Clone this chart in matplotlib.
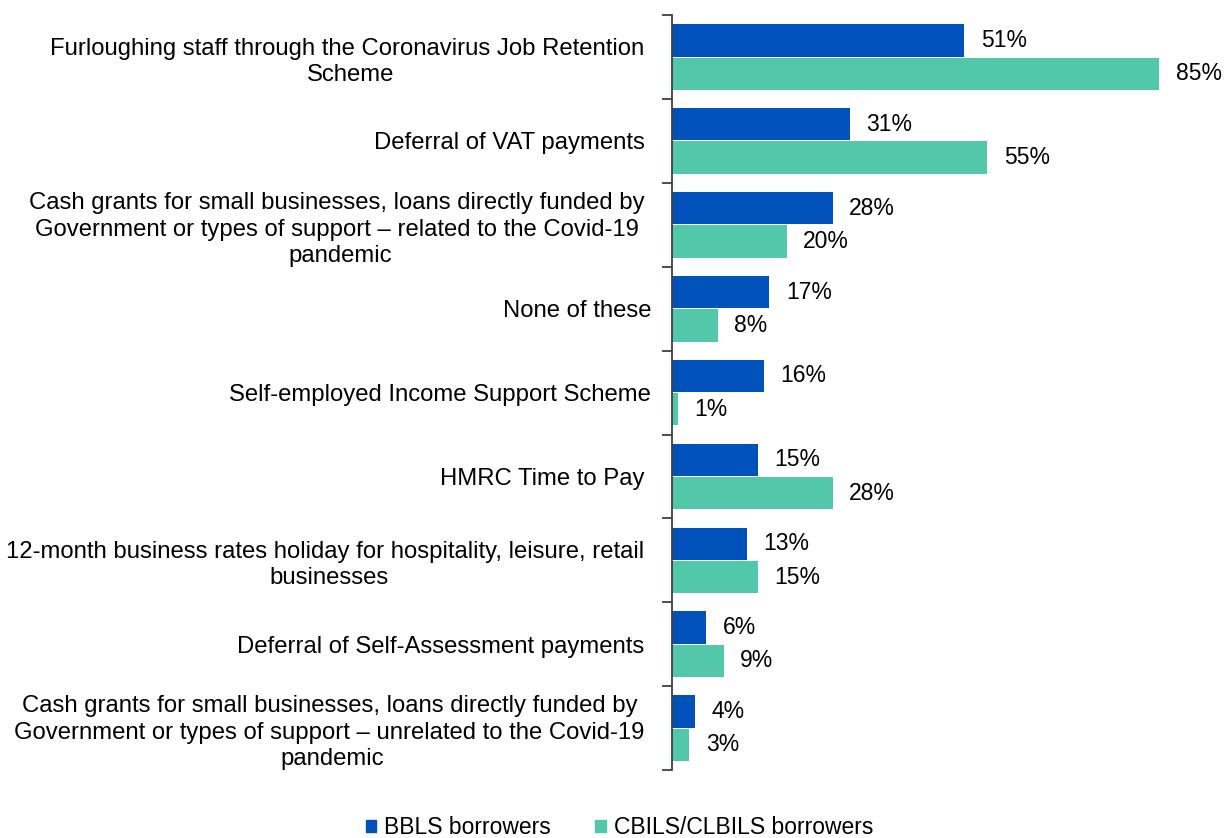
import matplotlib
matplotlib.use("Agg")
import matplotlib.pyplot as plt
import numpy as np

plt.rcParams['font.family'] = ['Liberation Sans', 'DejaVu Sans']

categories = [
    "Furloughing staff through the Coronavirus Job Retention \nScheme",
    "Deferral of VAT payments ",
    "Cash grants for small businesses, loans directly funded by \nGovernment or types of support \u2013 related to the Covid-19 \npandemic",
    "None of these",
    "Self-employed Income Support Scheme",
    "HMRC Time to Pay ",
    "12-month business rates holiday for hospitality, leisure, retail \nbusinesses",
    "Deferral of Self-Assessment payments ",
    "Cash grants for small businesses, loans directly funded by \nGovernment or types of support \u2013 unrelated to the Covid-19 \npandemic",
]
bbls = [51, 31, 28, 17, 16, 15, 13, 6, 4]
cbils = [85, 55, 20, 8, 1, 28, 15, 9, 3]
series_names = ["BBLS borrowers", "CBILS/CLBILS borrowers"]
colors = ["#0052BA", "#52C7A9"]

fig = plt.figure(figsize=(12.24, 8.38), dpi=100)
ax = fig.add_axes([0.549, 0.081, 0.4216, 0.901])

n = len(categories)
y = np.arange(n)
h = 0.385
gap = 0.012
b1 = ax.barh(y - h/2 - gap/2, bbls, height=h, color=colors[0], label=series_names[0])
b2 = ax.barh(y + h/2 + gap/2, cbils, height=h, color=colors[1], label=series_names[1])

fs = 16.5
fs_lab = 17.2
for bars, vals in ((b1, bbls), (b2, cbils)):
    for rect, v in zip(bars, vals):
        ax.text(rect.get_width() + 2.9, rect.get_y() + rect.get_height()/2, f"{v}%",
                va='center', ha='left', fontsize=fs, color='black')

ax.set_xlim(0, 90)
ax.set_ylim(n - 0.5, -0.5)
ax.set_yticks(y)
ax.set_yticklabels(categories, fontsize=fs_lab, linespacing=1.26)
ax.set_yticks(np.arange(-0.5, n, 1), minor=True)
ax.tick_params(axis='y', which='major', length=0, pad=15)
ax.tick_params(axis='y', which='minor', length=7, width=1.3, color='#404040')
ax.set_xticks([])
for s in ['top', 'right', 'bottom']:
    ax.spines[s].set_visible(False)
ax.spines['left'].set_color('#404040')
ax.spines['left'].set_linewidth(1.3)
for lab in ax.get_yticklabels():
    lab.set_ha('right')
    lab.set_multialignment('center')

handles = [plt.Rectangle((0, 0), 1, 1, color=c) for c in colors]
fig.legend(handles, series_names, loc='center', bbox_to_anchor=(0.506, 0.012),
           ncol=2, frameon=False, fontsize=fs, handlelength=0.45, handleheight=0.45,
           handletextpad=0.35, columnspacing=1.95)

fig.savefig("out.png", dpi=100, facecolor='white')
